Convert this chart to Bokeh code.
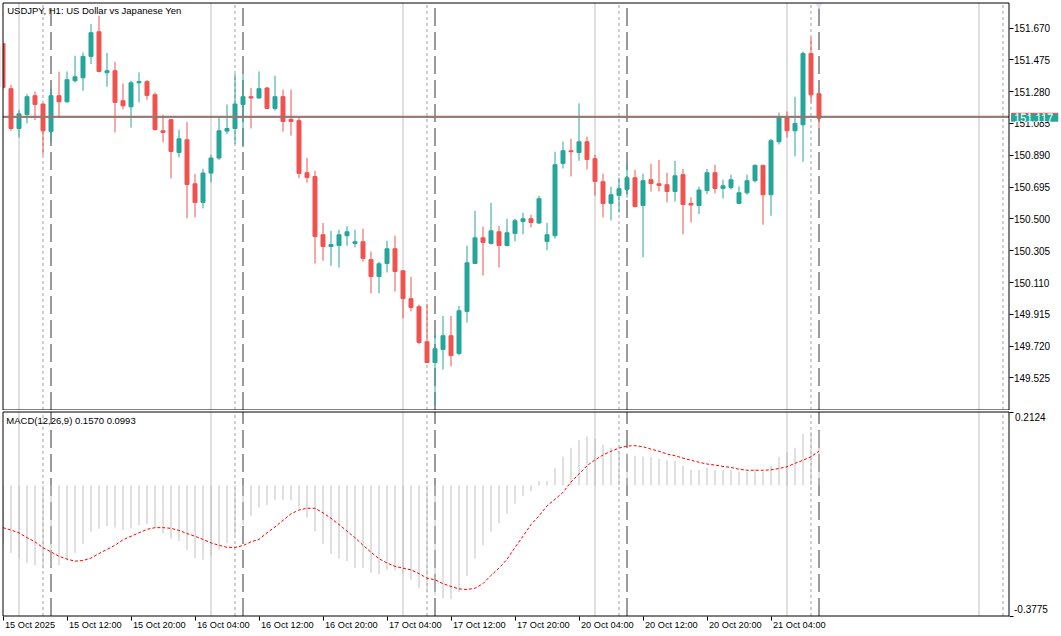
from bokeh.plotting import figure
from bokeh.models import (Range1d, FixedTicker, Label, ColumnDataSource, NumeralTickFormatter,
                          LinearAxis)
from bokeh.layouts import column
from bokeh.embed import file_html
from bokeh.resources import INLINE

# ---------------- data (USDJPY H1) ----------------
opens = [151.574, 151.298, 151.054, 151.140, 151.255, 151.204, 151.036, 151.255, 151.218, 151.347,
         151.365, 151.496, 151.647, 151.396, 151.408, 151.224, 151.187, 151.334, 151.341, 151.261,
         151.040, 151.108, 150.907, 150.985, 150.715, 150.601, 150.781, 150.873, 151.038, 151.054,
         151.201, 151.249, 151.241, 151.302, 151.177, 151.249, 151.110, 151.102, 150.783, 150.760,
         150.403, 150.331, 150.337, 150.397, 150.350, 150.360, 150.250, 150.147, 150.227, 150.317,
         150.182, 150.011, 149.962, 149.747, 149.620, 149.700, 149.784, 149.675, 149.933, 150.227,
         150.384, 150.350, 150.421, 150.337, 150.411, 150.484, 150.501, 150.475, 150.362, 150.397,
         150.840, 150.918, 150.907, 150.973, 150.869, 150.728, 150.595, 150.644, 150.681, 150.752,
         150.582, 150.740, 150.715, 150.709, 150.668, 150.771, 150.595, 150.582, 150.674, 150.783,
         150.687, 150.693, 150.595, 150.660, 150.734, 150.828, 150.648, 150.973, 151.126, 151.040,
         151.077, 151.514, 151.267]
highs = [151.580, 151.322, 151.169, 151.265, 151.281, 151.206, 151.300, 151.402, 151.404, 151.500,
         151.520, 151.694, 151.745, 151.517, 151.463, 151.330, 151.347, 151.398, 151.351, 151.275,
         151.138, 151.112, 151.046, 151.094, 150.775, 150.807, 150.893, 151.118, 151.201, 151.388,
         151.388, 151.302, 151.404, 151.310, 151.377, 151.293, 151.293, 151.118, 150.873, 150.795,
         150.475, 150.427, 150.434, 150.454, 150.434, 150.440, 150.299, 150.237, 150.366, 150.397,
         150.184, 150.145, 149.974, 149.980, 149.790, 149.906, 149.906, 149.968, 150.335, 150.550,
         150.452, 150.599, 150.458, 150.501, 150.501, 150.538, 150.525, 150.642, 150.476, 150.912,
         150.973, 150.991, 151.208, 151.004, 150.893, 150.777, 150.697, 150.752, 150.838, 150.801,
         150.777, 150.838, 150.862, 150.783, 150.856, 150.806, 150.632, 150.697, 150.806, 150.832,
         150.740, 150.771, 150.699, 150.771, 150.834, 150.832, 150.991, 151.151, 151.159, 151.249,
         151.526, 151.612, 151.270]
lows = [151.298, 151.040, 150.999, 151.085, 151.106, 150.893, 150.975, 151.122, 151.212, 151.336,
        151.285, 151.449, 151.398, 151.310, 151.030, 151.171, 151.060, 151.214, 151.230, 151.040,
        150.969, 150.748, 150.877, 150.503, 150.509, 150.564, 150.723, 150.861, 151.020, 150.959,
        150.938, 151.054, 151.238, 151.175, 151.163, 151.034, 151.010, 150.750, 150.722, 150.227,
        150.244, 150.213, 150.202, 150.335, 150.325, 150.239, 150.043, 150.043, 150.172, 150.055,
        149.890, 149.933, 149.731, 149.617, 149.355, 149.577, 149.596, 149.663, 149.865, 150.225,
        150.153, 150.343, 150.202, 150.331, 150.362, 150.405, 150.448, 150.468, 150.307, 150.380,
        150.809, 150.760, 150.856, 150.803, 150.642, 150.509, 150.491, 150.540, 150.631, 150.570,
        150.264, 150.668, 150.668, 150.601, 150.607, 150.406, 150.478, 150.530, 150.652, 150.656,
        150.625, 150.679, 150.592, 150.648, 150.723, 150.464, 150.519, 150.956, 150.999, 150.883,
        150.850, 151.216, 151.057]
closes = [151.306, 151.054, 151.144, 151.249, 151.201, 151.040, 151.255, 151.218, 151.353, 151.371,
          151.496, 151.641, 151.404, 151.408, 151.214, 151.193, 151.334, 151.342, 151.257, 151.048,
          151.030, 150.913, 150.991, 150.711, 150.601, 150.781, 150.873, 151.040, 151.054, 151.204,
          151.249, 151.241, 151.298, 151.177, 151.249, 151.097, 151.097, 150.779, 150.754, 150.392,
          150.331, 150.343, 150.403, 150.421, 150.360, 150.258, 150.147, 150.225, 150.317, 150.178,
          150.012, 149.957, 149.743, 149.620, 149.704, 149.784, 149.663, 149.937, 150.231, 150.384,
          150.356, 150.427, 150.337, 150.415, 150.489, 150.501, 150.478, 150.624, 150.403, 150.832,
          150.918, 150.912, 150.973, 150.864, 150.730, 150.595, 150.648, 150.685, 150.752, 150.576,
          150.734, 150.717, 150.705, 150.668, 150.764, 150.588, 150.585, 150.677, 150.783, 150.687,
          150.703, 150.740, 150.660, 150.734, 150.828, 150.648, 150.979, 151.126, 151.040, 151.085,
          151.514, 151.261, 151.117]

macd_main = [-0.170, -0.195, -0.210, -0.224, -0.231, -0.240, -0.237, -0.231, -0.217, -0.195,
             -0.169, -0.134, -0.125, -0.117, -0.122, -0.129, -0.124, -0.115, -0.111, -0.122,
             -0.138, -0.154, -0.161, -0.186, -0.210, -0.215, -0.205, -0.186, -0.167, -0.142,
             -0.115, -0.088, -0.064, -0.056, -0.042, -0.042, -0.043, -0.064, -0.093, -0.132,
             -0.169, -0.198, -0.212, -0.219, -0.239, -0.239, -0.253, -0.256, -0.243, -0.246,
             -0.255, -0.273, -0.297, -0.310, -0.318, -0.326, -0.329, -0.308, -0.262, -0.212,
             -0.173, -0.134, -0.109, -0.082, -0.053, -0.030, -0.016, 0.013, 0.013, 0.051,
             0.084, 0.109, 0.132, 0.142, 0.135, 0.118, 0.109, 0.100, 0.093, 0.086,
             0.084, 0.083, 0.077, 0.072, 0.072, 0.057, 0.045, 0.045, 0.051, 0.045,
             0.045, 0.045, 0.040, 0.040, 0.047, 0.040, 0.057, 0.083, 0.097, 0.109,
             0.149, 0.155, 0.157]
macd_signal = [-0.122, -0.129, -0.137, -0.151, -0.163, -0.180, -0.192, -0.205, -0.213, -0.219,
               -0.217, -0.210, -0.197, -0.185, -0.173, -0.157, -0.147, -0.137, -0.127, -0.122,
               -0.122, -0.124, -0.130, -0.139, -0.147, -0.156, -0.166, -0.173, -0.179, -0.179,
               -0.174, -0.163, -0.156, -0.137, -0.120, -0.101, -0.082, -0.071, -0.066, -0.066,
               -0.079, -0.095, -0.113, -0.132, -0.151, -0.173, -0.193, -0.212, -0.224, -0.234,
               -0.239, -0.244, -0.255, -0.268, -0.273, -0.284, -0.292, -0.299, -0.301, -0.297,
               -0.284, -0.260, -0.239, -0.214, -0.179, -0.147, -0.113, -0.088, -0.059, -0.040,
               -0.020, 0.010, 0.033, 0.057, 0.074, 0.088, 0.099, 0.108, 0.114, 0.115,
               0.112, 0.105, 0.099, 0.091, 0.086, 0.079, 0.073, 0.067, 0.062, 0.059,
               0.055, 0.052, 0.047, 0.044, 0.044, 0.044, 0.045, 0.049, 0.054, 0.064,
               0.073, 0.083, 0.099]

price_ticks = [149.525, 149.720, 149.915, 150.110, 150.305, 150.500,
               150.695, 150.890, 151.085, 151.280, 151.475, 151.670]
time_tick_bars = [0, 8, 16, 24, 32, 40, 48, 56, 64, 72, 80, 88, 96]
time_tick_labels = ["15 Oct 2025", "15 Oct 12:00", "15 Oct 20:00", "16 Oct 04:00",
                    "16 Oct 12:00", "16 Oct 20:00", "17 Oct 04:00", "17 Oct 12:00",
                    "17 Oct 20:00", "20 Oct 04:00", "20 Oct 12:00", "20 Oct 20:00",
                    "21 Oct 04:00"]
last_price = 151.117
macd_last = "0.1570"
signal_last = "0.0993"
macd_scale_max = 0.2124
macd_scale_min = -0.3775
# vertical marker lines (bar index)
marks_solid = [2, 26, 50, 74, 98, 122]
marks_dotted = [5, 29, 53, 77, 101, 125]
marks_dashed = [6, 30, 54, 78, 102]
shift_bar = 102   # chart-shift marker over the last bar

# ---------------- geometry / styling ----------------
FONT = "Liberation Sans"
BULL = "#26a69a"
BEAR = "#ef5350"
W = 1060
H_MAIN, H_MACD = 410, 225

# horizontal: bar i is centred at pixel 2.5 + 8*i; pane border at bar 0 .. bar 125.75
BAR0_PX, BAR_PX = 2.5, 8.0
X_LO, X_HI = 0.0, 125.75
x_rng = Range1d(-BAR0_PX / BAR_PX, (W - BAR0_PX) / BAR_PX)

# price pane: 151.670 at pixel row 27.5, 163.17 px per yen; border rows 2.5 / 409.5
PX_PER_YEN = 163.17
P_REF, P_REF_PX = 151.670, 27.5
P_HI = P_REF + (P_REF_PX - 2.5) / PX_PER_YEN
P_LO = P_REF - (409.5 - P_REF_PX) / PX_PER_YEN
main_y = Range1d(P_REF - (H_MAIN - P_REF_PX) / PX_PER_YEN, P_REF + P_REF_PX / PX_PER_YEN)
ONE_PX = 1.0 / PX_PER_YEN

# MACD pane: border rows 1.5 (scale max) .. 205.5 (scale min)
M_HI, M_LO = macd_scale_max, macd_scale_min
PX_PER_M = (205.5 - 1.5) / (M_HI - M_LO)
macd_y = Range1d(M_HI - (H_MACD - 1.5) / PX_PER_M, M_HI + 1.5 / PX_PER_M)

bars = list(range(len(opens)))
src = ColumnDataSource(dict(
    x=bars, o=opens, h=highs, l=lows, c=closes,
    top=[max(o, c) for o, c in zip(opens, closes)],
    bottom=[min(o, c) for o, c in zip(opens, closes)],
    cc=[BULL if c >= o else BEAR for o, c in zip(opens, closes)],
))


def base_fig(height, y_rng):
    f = figure(width=W, height=height, x_range=x_rng, y_range=y_rng,
               output_backend="svg", toolbar_location=None, tools="",
               x_axis_location=None, y_axis_location=None,
               min_border_left=0, min_border_right=0, min_border_top=0, min_border_bottom=0)
    f.outline_line_color = None
    f.xgrid.visible = False
    f.ygrid.visible = False
    f.background_fill_color = "white"
    f.border_fill_color = "white"
    return f


def add_marks(f, y0, y1):
    n = len(marks_solid)
    f.segment(x0=marks_solid, x1=marks_solid, y0=[y0] * n, y1=[y1] * n,
              line_color="#c0c0c0", line_width=1, level="underlay")
    n = len(marks_dotted)
    f.segment(x0=marks_dotted, x1=marks_dotted, y0=[y0] * n, y1=[y1] * n,
              line_color="#a0a0a0", line_width=1, line_dash="3 3", level="underlay")
    n = len(marks_dashed)
    f.segment(x0=marks_dashed, x1=marks_dashed, y0=[y0] * n, y1=[y1] * n,
              line_color="#808080", line_width=1.6, line_dash="18 6", level="underlay")


def style_axis(ax, ticks):
    ax.ticker = FixedTicker(ticks=ticks)
    ax.axis_line_color = None
    ax.major_tick_out = 4
    ax.major_tick_in = 0
    ax.minor_tick_line_color = None
    ax.major_tick_line_color = "black"
    ax.major_label_text_font = FONT
    ax.major_label_text_font_size = "10px"
    ax.major_label_text_color = "black"
    ax.major_label_standoff = 1


def make_label(**kw):
    pad = kw.pop("pad", None)
    if pad is not None:
        try:
            return Label(padding=pad, **kw)
        except Exception:
            pass
    return Label(**kw)


# ---------------- main price pane ----------------
main = base_fig(H_MAIN, main_y)
add_marks(main, P_LO, P_HI)

main.segment(x0="x", y0="l", x1="x", y1="h", line_color="cc", line_width=1, source=src)
main.vbar(x="x", width=0.5, top="top", bottom="bottom", fill_color="cc",
          line_color="cc", line_width=1, source=src)

# clip the partly hidden first candle at the pane's left edge
main.quad(left=[x_rng.start], right=[X_LO], bottom=[main_y.start], top=[main_y.end],
          fill_color="white", line_color=None)

# ask (teal) and bid (red) lines
main.segment(x0=[X_LO], x1=[X_HI], y0=[last_price + 0.8 * ONE_PX], y1=[last_price + 0.8 * ONE_PX],
             line_color=BULL, line_width=1)
main.segment(x0=[X_LO], x1=[X_HI], y0=[last_price + 1.9 * ONE_PX], y1=[last_price + 1.9 * ONE_PX],
             line_color=BEAR, line_width=1.2)

# chart-shift marker
main.scatter(x=[shift_bar], y=[P_HI - 2.5 * ONE_PX], marker="inverted_triangle", size=7,
             fill_color="#e6e0ee", line_color=None)

# pane border
main.quad(left=[X_LO], right=[X_HI], bottom=[P_LO], top=[P_HI],
          fill_color=None, line_color="black", line_width=1)

pax = LinearAxis(fixed_location=X_HI)
style_axis(pax, price_ticks)
pax.formatter = NumeralTickFormatter(format="0.000")
main.add_layout(pax, "right")

main.add_layout(Label(x=X_LO, y=P_HI, x_offset=4.2, y_offset=-7.5,
                      text="USDJPY, H1:  US Dollar vs Japanese Yen",
                      text_font=FONT, text_font_size="9.5px", text_color="black",
                      text_baseline="middle", text_align="left"))

# last-price tag (red edge on top, teal tag)
for col, dy in ((BEAR, 1.5), (BULL, 0.5)):
    main.add_layout(make_label(x=X_HI, y=last_price, x_offset=2.2, y_offset=dy,
                               text=f"{last_price:.3f}", text_font=FONT, text_font_size="11px",
                               text_color="white", text_baseline="middle", text_align="left",
                               background_fill_color=col, border_line_color=None,
                               pad=dict(left=3, right=5, top=0, bottom=0)))

# ---------------- MACD pane ----------------
macd = base_fig(H_MACD, macd_y)
add_marks(macd, M_LO, M_HI)

msrc = ColumnDataSource(dict(x=bars, m=macd_main, s=macd_signal, z=[0.0] * len(bars)))
macd.segment(x0="x", y0="z", x1="x", y1="m", line_color="#c0c0c0", line_width=1, source=msrc)
macd.line(x="x", y="s", line_color="red", line_width=1, line_dash="3 2", source=msrc)

macd.quad(left=[x_rng.start], right=[X_LO], bottom=[M_LO], top=[M_HI],
          fill_color="white", line_color=None)
macd.quad(left=[X_LO], right=[X_HI], bottom=[M_LO], top=[M_HI],
          fill_color=None, line_color="black", line_width=1)

may = LinearAxis(fixed_location=X_HI)
style_axis(may, [macd_scale_max, macd_scale_min])
may.major_label_text_color = None
macd.add_layout(may, "right")

tax = LinearAxis(fixed_location=M_LO)
style_axis(tax, time_tick_bars)
tax.major_label_text_color = None
macd.add_layout(tax, "below")

for b, lab in zip(time_tick_bars, time_tick_labels):
    macd.add_layout(Label(x=b, y=M_LO, x_offset=2, y_offset=-9, text=lab,
                          text_font=FONT, text_font_size="9.2px", text_color="black",
                          text_baseline="middle", text_align="left"))

macd.add_layout(Label(x=X_HI, y=macd_scale_max, x_offset=6, y_offset=-5,
                      text=f"{macd_scale_max:.4f}", text_font=FONT, text_font_size="10px",
                      text_color="black", text_baseline="middle", text_align="left"))
macd.add_layout(Label(x=X_HI, y=macd_scale_min, x_offset=5, y_offset=6.8,
                      text=f"{macd_scale_min:.4f}", text_font=FONT, text_font_size="10px",
                      text_color="black", text_baseline="middle", text_align="left"))

macd.add_layout(Label(x=X_LO, y=M_HI, x_offset=3.3, y_offset=-8.8,
                      text=f"MACD(12,26,9) {macd_last} {signal_last}",
                      text_font=FONT, text_font_size="9.5px", text_color="black",
                      text_baseline="middle", text_align="left"))

layout = column(main, macd, spacing=0)
open("out.html", "w").write(file_html(layout, INLINE))
